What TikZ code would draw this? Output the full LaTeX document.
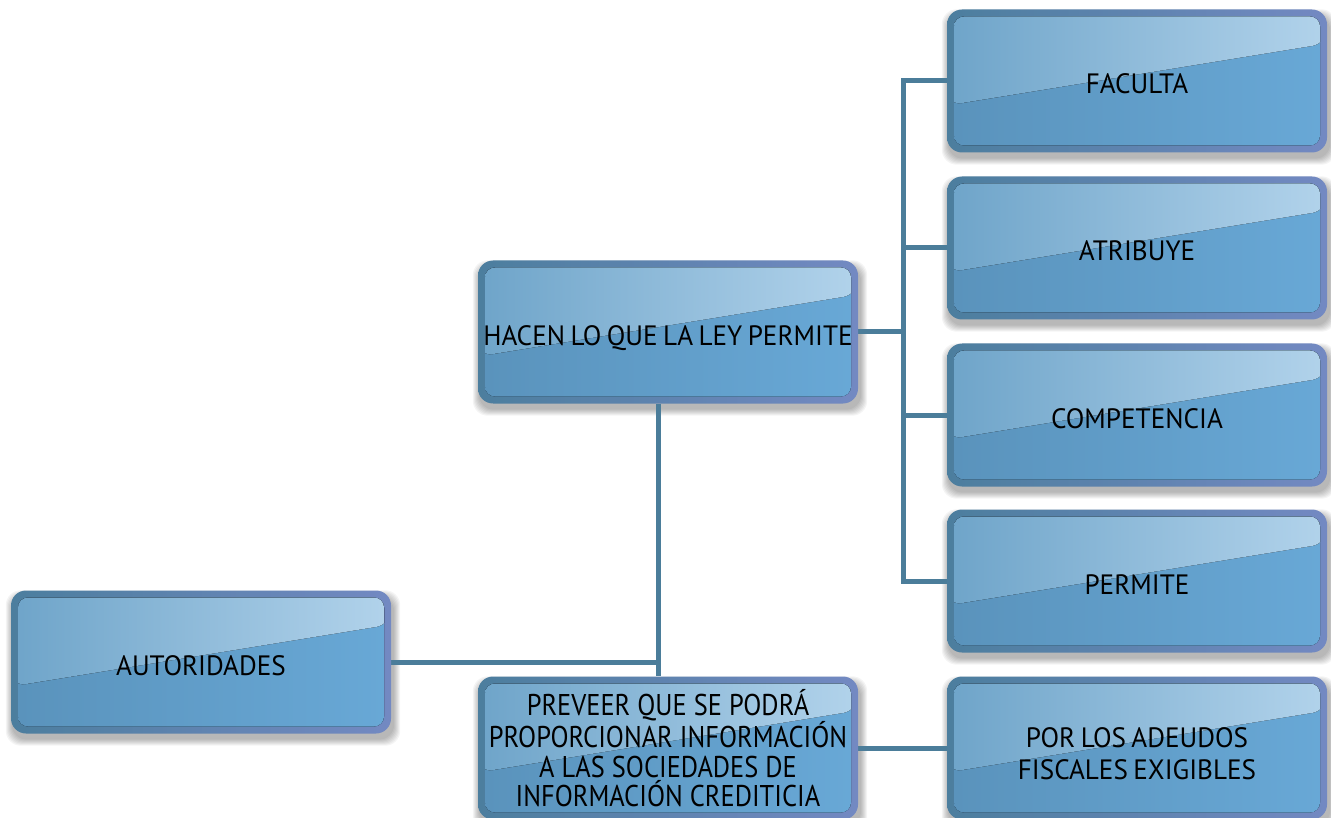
\documentclass[tikz,border=0pt]{standalone}
\usepackage{fontspec}
\setmainfont[WordSpace=0.75,FakeStretch=0.97]{PT Sans}
\newfontfamily\condfont[FakeStretch=0.88]{PT Sans}
\usetikzlibrary{calc}
\definecolor{bordL}{HTML}{4C7E9E}
\definecolor{bordR}{HTML}{7389C2}
\definecolor{baseL}{HTML}{5A93BC}
\definecolor{baseR}{HTML}{68A8D6}
\definecolor{glossL}{HTML}{6EA4C9}
\definecolor{glossR}{HTML}{B2D3EB}
\definecolor{connC}{HTML}{4B7D9A}
\pgfdeclarelayer{shadowlayer}
\pgfdeclarelayer{connlayer}
\pgfsetlayers{shadowlayer,connlayer,main}
\tikzset{
  gbox/.style={rounded corners=15pt, minimum width=380pt, minimum height=143pt,
    inner sep=0pt, align=center, text=black,
    font=\fontsize{28}{30}\selectfont,
    left color=bordL, right color=bordR,
    path picture={
      \coordinate (tl) at (path picture bounding box.north west);
      \coordinate (br) at (path picture bounding box.south east);
      \fill[rounded corners=10pt, left color=baseL, right color=baseR]
        ($(tl)+(7pt,-7pt)$) rectangle ($(br)+(-7pt,7pt)$);
      \begin{scope}
        \clip[rounded corners=10pt] ($(tl)+(7pt,-7pt)$) rectangle ($(br)+(-7pt,7pt)$);
        \fill[left color=glossL, right color=glossR]
          ($(tl)+(0pt,0pt)$) -- ($(tl -| br)+(0pt,0pt)$) -- ($(tl -| br)+(0pt,-34pt)$)
          -- ($(tl)+(0pt,-96pt)$) -- cycle;
      \end{scope}
    }},
  oneline/.style={text height=26pt, text depth=0pt},
  conn/.style={draw=connC, line width=5pt}
}
\newcommand{\boxshadow}[1]{%
  \foreach \k in {1,...,7}{%
    \fill[black, opacity=0.045, rounded corners=15pt]
      ($(#1.north west)+(-\k pt+2pt,\k pt-7pt)$) rectangle ($(#1.south east)+(\k pt+2pt,-\k pt-5pt)$);
  }%
}
\begin{document}
\begin{tikzpicture}[x=1pt,y=-1pt]
\useasboundingbox (0,0) rectangle (1331,818);
\node[gbox, oneline] (fac) at (1137,81) {FACULTA};
\node[gbox, oneline] (atr) at (1137,248) {ATRIBUYE};
\node[gbox, oneline] (comp) at (1137,415) {COMPETENCIA};
\node[gbox, oneline] (perm) at (1137,581) {PERMITE};
\node[gbox, font=\fontsize{28}{32}\selectfont] (ade) at (1137,748) {\rule{0pt}{32pt}POR LOS ADEUDOS\\FISCALES EXIGIBLES};
\node[gbox, oneline] (hac) at (668,332) {HACEN LO QUE LA LEY PERMITE};
\node[gbox, oneline] (aut) at (201,662) {AUTORIDADES};
\node[gbox, font=\condfont\fontsize{30}{29.5}\selectfont] (pre) at (668,748)
  {\rule{0pt}{26pt}PREVEER QUE SE PODRÁ\\PROPORCIONAR INFORMACIÓN\\A LAS SOCIEDADES DE\\INFORMACIÓN CREDITICIA};
\coordinate (jl) at (658,662);
\coordinate (jr) at (903,332);
\begin{pgfonlayer}{shadowlayer}
  \fill[white] (0,0) rectangle (1331,818);
  \foreach \n in {fac,atr,comp,perm,ade,hac,aut,pre}{\boxshadow{\n}}
\end{pgfonlayer}
\begin{pgfonlayer}{connlayer}
  \draw[conn] (hac.south -| jl) -- (pre.north -| jl);
  \draw[conn] (aut.east) -- (jl);
  \draw[conn] (hac.east) -- (jr);
  \draw[conn] (fac.west) -- (fac.west -| jr) -- (perm.west -| jr) -- (perm.west);
  \draw[conn] (atr.west) -- (atr.west -| jr);
  \draw[conn] (comp.west) -- (comp.west -| jr);
  \draw[conn] (pre.east) -- (ade.west);
\end{pgfonlayer}
\end{tikzpicture}
\end{document}
